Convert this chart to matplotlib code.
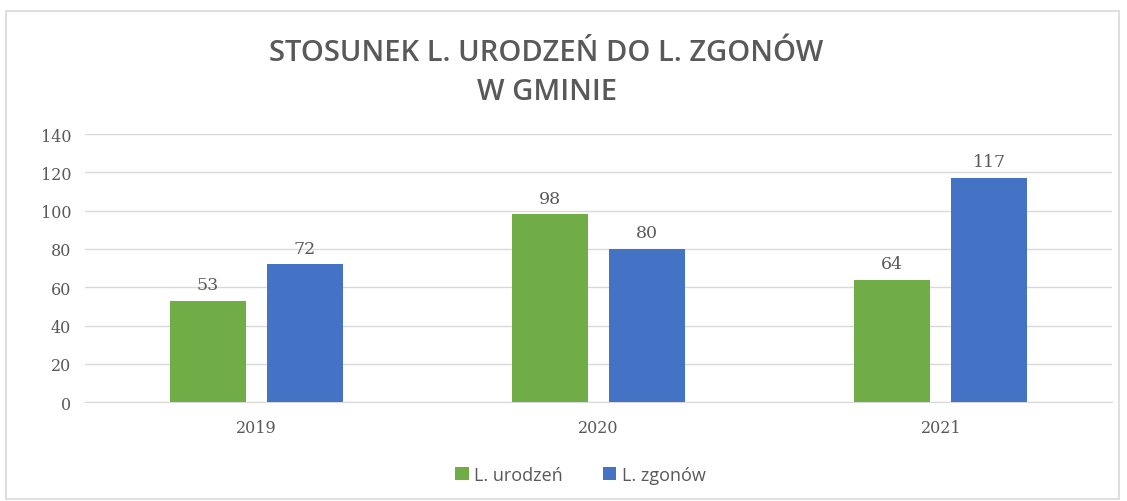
import matplotlib

matplotlib.use("Agg")
import matplotlib.pyplot as plt
import numpy as np
from matplotlib.patches import Rectangle

years = ["2019", "2020", "2021"]
births = [53, 98, 64]
deaths = [72, 80, 117]
series_names = ["L. urodzeń", "L. zgonów"]
title = "STOSUNEK L. URODZEŃ DO L. ZGONÓW\nW GMINIE"

GREEN = "#70ad47"
BLUE = "#4472c4"
TXT = "#595959"

fig = plt.figure(figsize=(11.27, 5.02), dpi=100)
ax = fig.add_axes([0.0754, 0.197, 0.9113, 0.534])

# outer chart frame
fig.patches.append(Rectangle((0.005, 0.004), 0.988, 0.972, transform=fig.transFigure,
                             fill=False, edgecolor="#d9d9d9", linewidth=1.2))

x = np.arange(len(years))
w = 0.222
off = 0.142
b1 = ax.bar(x - off, births, w, color=GREEN, label=series_names[0], zorder=3)
b2 = ax.bar(x + off, deaths, w, color=BLUE, label=series_names[1], zorder=3)

for bars in (b1, b2):
    for r in bars:
        ax.text(r.get_x() + r.get_width() / 2, r.get_height() + 4, f"{int(r.get_height())}",
                ha="center", va="bottom", fontsize=12.5, color=TXT, family="DejaVu Serif")

ax.set_xlim(-0.5, 2.5)
ax.set_ylim(0, 140)
ax.set_yticks(range(0, 141, 20))
ax.set_xticks(x)
ax.set_xticklabels(years)
for lab in ax.get_xticklabels() + ax.get_yticklabels():
    lab.set_family("DejaVu Serif")
    lab.set_fontsize(11.5)
    lab.set_color(TXT)
ax.tick_params(length=0, pad=10)
ax.tick_params(axis="x", pad=12)
ax.yaxis.grid(True, color="#d9d9d9", linewidth=1, zorder=0)
for s in ["top", "right", "left"]:
    ax.spines[s].set_visible(False)
ax.spines["bottom"].set_color("#d9d9d9")

fig.text(0.485, 0.855, title, ha="center", va="center", fontsize=21, fontweight="semibold",
         color=TXT, family="Open Sans", linespacing=1.45)

fig.legend(handles=[b1, b2], loc="center", bbox_to_anchor=(0.515, 0.052), ncol=2, frameon=False,
           prop={"family": "Open Sans", "size": 13}, labelcolor=TXT,
           handlelength=0.75, handleheight=0.75, handletextpad=0.3, columnspacing=2.2)

fig.savefig("out.png", dpi=100)
